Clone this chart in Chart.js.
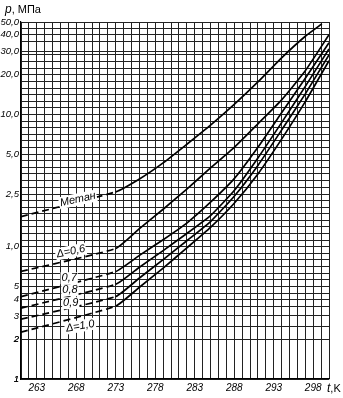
<!DOCTYPE html>
<html>
<head>
<meta charset="utf-8">
<script src="https://cdn.jsdelivr.net/npm/chart.js@4.4.0/dist/chart.umd.min.js"></script>
<style>
  html, body { margin: 0; padding: 0; background: #fff; }
  #wrap { width: 343px; height: 398px; }
</style>
</head>
<body>
<div id="wrap"><canvas id="hydrateChart" width="343" height="398"></canvas></div>
<script>
// temperatures, K
const tempsMethane = [261, 273, 276, 279, 282, 285, 288, 291, 294, 297, 299.1];
const tempsGas = [261, 273, 276, 279, 282, 285, 288, 291, 294, 297, 300];

// hydrate formation pressure, MPa
const pMethane = [1.69, 2.6, 3.25, 4.3, 5.95, 8.3, 11.9, 17.6, 26.8, 39, 48.4];
const pGas06 = [0.65, 0.97, 1.37, 1.92, 2.73, 3.94, 5.64, 8.5, 12.9, 21.4, 40];
const pGas07 = [0.42, 0.65, 0.86, 1.13, 1.51, 2.17, 3.27, 5.65, 10.3, 18.8, 34.8];
const pGas08 = [0.343, 0.52, 0.70, 0.935, 1.26, 1.72, 2.66, 4.69, 8.67, 16.3, 31.3];
const pGas09 = [0.283, 0.42, 0.58, 0.80, 1.11, 1.55, 2.41, 4.12, 7.62, 14.3, 28.2];
const pGas10 = [0.226, 0.356, 0.494, 0.69, 0.98, 1.40, 2.13, 3.55, 6.51, 12.5, 25.5];

// tick labels
const xTickLabels = [263, 268, 273, 278, 283, 288, 293, 298];
const yTickValues = [50, 40, 30, 20, 10, 5, 2.5, 1, 0.5, 0.4, 0.3, 0.2, 0.1];
const yTickLabels = ['50,0', '40,0', '30,0', '20,0', '10,0', '5,0', '2,5', '1,0', '5', '4', '3', '2', '1'];

const T_MIN = 261, T_MAX = 300;
const P_MIN = 0.1, P_MAX = 50;
const THAW = 273; // curves are dashed below this temperature

const FONT = '"Liberation Sans", "DejaVu Sans", sans-serif';

// curve captions, anchored in data units
const curveNotes = [
  { text: 'Метан', t: 268.2, p: 2.28, angle: -12 },
  { text: 'Δ=0,6', t: 267.3, p: 0.92, angle: -12 },
  { text: '0,7', t: 267.1, p: 0.578, angle: 0 },
  { text: '0,8', t: 267.2, p: 0.469, angle: 0 },
  { text: '0,9', t: 267.3, p: 0.374, angle: 0 },
  { text: 'Δ=1,0', t: 268.5, p: 0.251, angle: -10 }
];

// log paper: 20 lines per decade above 0.3, sparse below
function yGridValues() {
  const vals = [0.1, 0.2, 0.25];
  for (let k = -10; k <= 34; k++) {
    const v = Math.pow(10, k / 20);
    if (v > P_MAX) break;
    const crowded = yTickValues.some(t => Math.abs(Math.log10(t) - Math.log10(v)) < 0.025);
    if (!crowded) vals.push(v);
  }
  yTickValues.forEach(v => vals.push(v));
  return vals.sort((a, b) => a - b);
}

function series(temps, press) {
  return temps.map((t, i) => ({ x: t, y: press[i] }));
}

function curve(temps, press) {
  return {
    data: series(temps, press),
    borderColor: '#000',
    borderWidth: 1.7,
    pointRadius: 0,
    tension: 0.15,
    segment: {
      borderDash: ctx => ctx.p1.parsed.x <= THAW + 0.01 ? [7, 4] : undefined
    }
  };
}

const notesPlugin = {
  id: 'notes',
  afterDatasetsDraw(chart) {
    const { ctx, scales: { x, y }, chartArea } = chart;
    ctx.save();
    ctx.font = 'italic 11px ' + FONT;
    ctx.textAlign = 'center';
    ctx.textBaseline = 'middle';
    curveNotes.forEach(n => {
      const px = x.getPixelForValue(n.t);
      const py = y.getPixelForValue(n.p);
      const w = ctx.measureText(n.text).width;
      ctx.save();
      ctx.translate(px, py);
      ctx.rotate(n.angle * Math.PI / 180);
      ctx.fillStyle = '#fff';
      ctx.fillRect(-w / 2 - 1, -6, w + 2, 12);
      ctx.fillStyle = '#000';
      ctx.fillText(n.text, 0, 0);
      ctx.restore();
    });

    // axis names
    ctx.textAlign = 'left';
    ctx.fillStyle = '#000';
    ctx.font = 'italic 12px ' + FONT;
    ctx.fillText('p', 5, 10);
    let w = ctx.measureText('p').width;
    ctx.font = '11px ' + FONT;
    ctx.fillText(', МПа', 5 + w, 10);

    ctx.font = 'italic 12px ' + FONT;
    ctx.fillText('t', chartArea.right - 2, chartArea.bottom + 10);
    w = ctx.measureText('t').width;
    ctx.font = '11px ' + FONT;
    ctx.fillText(',K', chartArea.right - 2 + w, chartArea.bottom + 10);
    ctx.restore();
  }
};

new Chart(document.getElementById('hydrateChart').getContext('2d'), {
  type: 'line',
  data: {
    datasets: [
      curve(tempsMethane, pMethane),
      curve(tempsGas, pGas06),
      curve(tempsGas, pGas07),
      curve(tempsGas, pGas08),
      curve(tempsGas, pGas09),
      curve(tempsGas, pGas10)
    ]
  },
  options: {
    responsive: false,
    animation: false,
    devicePixelRatio: 1,
    layout: { padding: { top: 22, right: 14, left: 0, bottom: 0 } },
    plugins: {
      legend: { display: false },
      tooltip: { enabled: false }
    },
    scales: {
      x: {
        type: 'linear',
        min: T_MIN,
        max: T_MAX,
        afterBuildTicks: s => {
          const ticks = [];
          for (let t = T_MIN; t <= T_MAX; t++) ticks.push({ value: t });
          s.ticks = ticks;
        },
        afterFit: s => { s.height = 19; },
        grid: { color: '#222', lineWidth: 1, drawTicks: false },
        border: { display: true, color: '#000', width: 1.2 },
        ticks: {
          autoSkip: false,
          maxRotation: 0,
          padding: 3,
          color: '#000',
          font: { family: FONT, size: 10, style: 'italic' },
          callback: v => xTickLabels.includes(v) ? String(v) : ''
        }
      },
      y: {
        type: 'logarithmic',
        min: P_MIN,
        max: P_MAX,
        afterBuildTicks: s => {
          s.ticks = yGridValues().map(v => ({ value: v }));
        },
        afterFit: s => { s.width = 21; },
        grid: { color: '#222', lineWidth: 1, drawTicks: false },
        border: { display: true, color: '#000', width: 1.2 },
        ticks: {
          autoSkip: false,
          padding: 2,
          color: '#000',
          font: { family: FONT, size: 9.5, style: 'italic' },
          callback: v => {
            const i = yTickValues.findIndex(t => Math.abs(Math.log10(t) - Math.log10(v)) < 1e-6);
            return i >= 0 ? yTickLabels[i] : '';
          }
        }
      }
    }
  },
  plugins: [notesPlugin]
});
</script>
</body>
</html>
